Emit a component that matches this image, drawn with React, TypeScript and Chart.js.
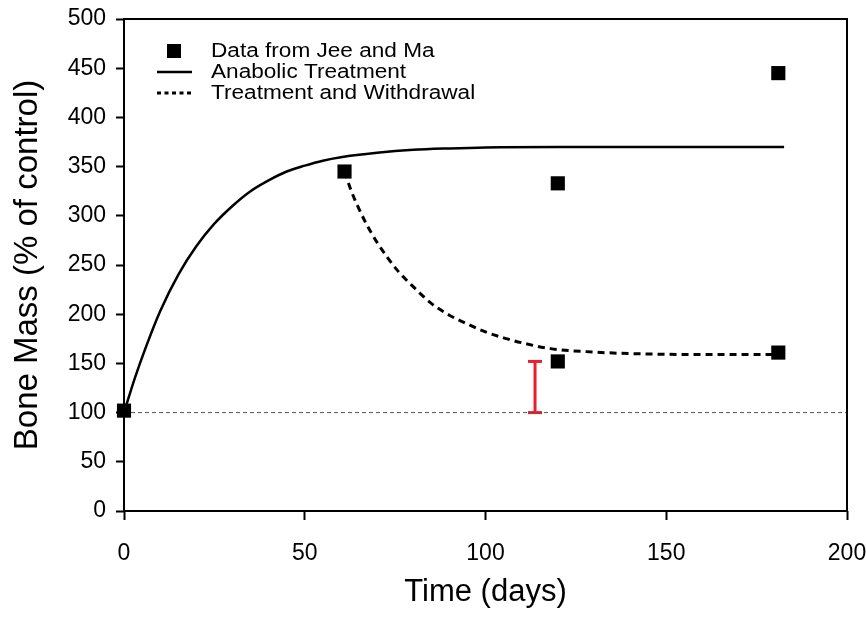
import React, { useEffect, useRef } from "react";
import { Chart, registerables } from "chart.js";

Chart.register(...registerables);

// ---- data ----
const jeeMaDays = [0, 61, 120, 120, 181, 181];
const jeeMaMass = [102, 345, 333, 152, 445, 161];

const anabolicDays = [0, 3, 6, 10, 15, 20, 25, 30, 35, 40, 45, 50, 55, 60, 70, 80, 90, 100, 120, 150, 182.6];
const anabolicMass = [100, 135, 166, 203, 240, 269, 292, 310, 325, 336, 345, 351, 356, 359.5, 364, 367, 368.5, 369.5, 370, 370, 370];

const withdrawalDays = [61, 63, 65, 67, 70, 73, 76, 80, 85, 90, 95, 100, 105, 110, 118, 130, 140, 160, 181];
const withdrawalMass = [345, 324, 307, 292, 273, 257, 243, 228, 211, 199, 190, 182, 176, 171, 165, 161.5, 160, 159, 159];

const controlDays = [0, 200];
const controlMass = [100, 100];

const errorDays = [113.7, 113.7];
const errorMass = [100, 152];

const xTicks = [0, 50, 100, 150, 200];
const yTicks = [0, 50, 100, 150, 200, 250, 300, 350, 400, 450, 500];

const labels = ["Data from Jee and Ma", "Anabolic Treatment", "Treatment and Withdrawal"];

const FONT = "'Liberation Sans', Arial, Helvetica, sans-serif";

const zip = (xs: number[], ys: number[]) => xs.map((x, i) => ({ x, y: ys[i] }));

const boxAndLegend = {
  id: "boxAndLegend",
  afterDraw(chart: any) {
    const { ctx, chartArea } = chart;
    ctx.save();
    ctx.strokeStyle = "#000";
    ctx.lineWidth = 2;
    ctx.setLineDash([]);
    ctx.strokeRect(chartArea.left, chartArea.top, chartArea.right - chartArea.left, chartArea.bottom - chartArea.top);

    const rows = [51, 72, 93];
    const textX = 211;
    ctx.fillStyle = "#000";
    ctx.font = `20px ${FONT}`;
    ctx.textBaseline = "middle";
    ctx.textAlign = "left";
    ctx.fillRect(167, rows[0] - 7, 14, 14);
    ctx.lineWidth = 2.5;
    ctx.beginPath();
    ctx.moveTo(157, rows[1]);
    ctx.lineTo(192, rows[1]);
    ctx.stroke();
    ctx.lineWidth = 3;
    ctx.setLineDash([4, 3.5]);
    ctx.beginPath();
    ctx.moveTo(157, rows[2]);
    ctx.lineTo(192, rows[2]);
    ctx.stroke();
    ctx.setLineDash([]);
    const ds = chart.data.datasets;
    for (let i = 0; i < 3; i++) {
      ctx.save();
      ctx.translate(textX, rows[i]);
      ctx.scale(1.13, 1);
      ctx.fillText(ds[i].label, 0, 0);
      ctx.restore();
    }
    ctx.restore();
  },
};

export default function App() {
  const ref = useRef<HTMLCanvasElement | null>(null);

  useEffect(() => {
    document.body.style.margin = "0";
    const canvas = ref.current;
    if (!canvas) return;
    const chart = new Chart(canvas, {
      type: "scatter",
      data: {
        datasets: [
          {
            label: labels[0],
            data: zip(jeeMaDays, jeeMaMass),
            pointStyle: "rect",
            pointRadius: 10,
            pointHoverRadius: 10,
            backgroundColor: "#000",
            borderColor: "#000",
            borderWidth: 0,
            showLine: false,
            clip: false,
          },
          {
            label: labels[1],
            data: zip(anabolicDays, anabolicMass),
            showLine: true,
            borderColor: "#000",
            borderWidth: 2.5,
            pointRadius: 0,
            cubicInterpolationMode: "monotone",
          },
          {
            label: labels[2],
            data: zip(withdrawalDays, withdrawalMass),
            showLine: true,
            borderColor: "#000",
            borderWidth: 3,
            borderDash: [7, 5],
            pointRadius: 0,
            cubicInterpolationMode: "monotone",
          },
          {
            label: "control",
            data: zip(controlDays, controlMass),
            showLine: true,
            borderColor: "#555",
            borderWidth: 1,
            borderDash: [4, 3],
            pointRadius: 0,
          },
          {
            label: "error",
            data: zip(errorDays, errorMass),
            showLine: true,
            borderColor: "#e8202a",
            borderWidth: 3,
            pointStyle: "line",
            pointRadius: 7,
            pointBorderWidth: 3,
            pointBorderColor: "#e8202a",
            pointBackgroundColor: "#e8202a",
          },
        ],
      },
      options: {
        responsive: false,
        animation: false,
        events: [],
        layout: { padding: { top: 19, right: 19, left: 0, bottom: 0 } },
        plugins: {
          legend: { display: false },
          tooltip: { enabled: false },
        },
        scales: {
          x: {
            type: "linear",
            min: 0,
            max: 200,
            afterBuildTicks: (scale: any) => {
              scale.ticks = xTicks.map((v) => ({ value: v }));
            },
            afterFit: (scale: any) => {
              scale.height = 108;
              scale.paddingLeft = 0;
              scale.paddingRight = 0;
            },
            grid: {
              drawOnChartArea: false,
              drawTicks: true,
              tickLength: 9,
              tickColor: "#000",
              tickWidth: 2,
            },
            border: { display: false },
            ticks: {
              color: "#000",
              font: { family: FONT, size: 23 },
              padding: 20,
              maxRotation: 0,
            },
            title: {
              display: true,
              text: "Time (days)",
              color: "#000",
              font: { family: FONT, size: 31 },
              padding: { top: 0, bottom: 8 },
            },
          },
          y: {
            type: "linear",
            min: 0,
            max: 500,
            afterBuildTicks: (scale: any) => {
              scale.ticks = yTicks.map((v) => ({ value: v }));
            },
            afterFit: (scale: any) => {
              scale.width = 124;
              scale.paddingTop = 0;
              scale.paddingBottom = 0;
            },
            grid: {
              drawOnChartArea: false,
              drawTicks: true,
              tickLength: 8,
              tickColor: "#000",
              tickWidth: 2,
            },
            border: { display: false },
            ticks: {
              color: "#000",
              font: { family: FONT, size: 23 },
              padding: 10,
            },
            title: {
              display: true,
              text: "Bone Mass (% of control)",
              color: "#000",
              font: { family: FONT, size: 33 },
              padding: { top: 8, bottom: 0 },
            },
          },
        },
      },
      plugins: [boxAndLegend],
    } as any);
    return () => chart.destroy();
  }, []);

  return <canvas ref={ref} width={866} height={619} style={{ display: "block" }} />;
}
